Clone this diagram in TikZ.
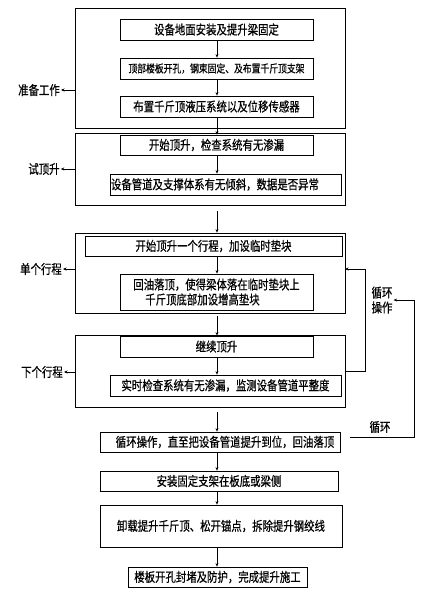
\documentclass[tikz,border=0pt]{standalone}
\usepackage{fontspec}
\newfontfamily\cjk[FakeStretch=0.8,FakeBold=0.6]{Noto Sans CJK SC}
\usetikzlibrary{arrows.meta}
\tikzset{
  grp/.style={draw, line width=0.8pt, minimum width=270pt, inner sep=0pt},
  bx/.style={draw, line width=0.8pt, inner sep=0pt, font=\cjk\fontsize{13}{15}\selectfont},
  lab/.style={font=\cjk\fontsize{13}{15}\selectfont, inner sep=1pt},
  arr/.style={-{Stealth[length=3.5pt,width=3pt]}, line width=0.7pt},
  ln/.style={line width=0.8pt},
}
\begin{document}
\begin{tikzpicture}[x=1pt,y=-1pt]
\useasboundingbox (0,0) rectangle (428,590);
\coordinate (spine) at (217,0);
% group boxes
\node[grp, minimum height=120pt] (g1) at (210,68) {};
\node[grp, minimum height=72pt] (g2) at (210,169) {};
\node[grp, minimum height=80pt] (g3) at (210,273) {};
\node[grp, minimum height=72pt] (g4) at (210,371) {};
% steps
\node[bx, minimum width=193pt, minimum height=21pt] (b1) at (216.5,29.5) {设备地面安装及提升梁固定};
\node[bx, minimum width=193pt, minimum height=21pt, font=\cjk\fontsize{11}{13}\selectfont] (b2) at (216.5,68.5) {顶部楼板开孔，钢束固定、及布置千斤顶支架};
\node[bx, minimum width=193pt, minimum height=21pt] (b3) at (216.5,106.5) {布置千斤顶液压系统以及位移传感器};
\node[bx, minimum width=193pt, minimum height=20pt] (b4) at (216.5,145) {开始顶升，检查系统有无渗漏};
\node[bx, minimum width=231pt, minimum height=21pt] (b5) at (225.5,184.5) {设备管道及支撑体系有无倾斜，数据是否异常\hspace*{21pt}};
\node[bx, minimum width=257pt, minimum height=20pt] (b6) at (213.5,246) {开始顶升一个行程，加设临时垫块};
\node[bx, minimum width=193pt, minimum height=36pt, align=left] (b7) at (216.5,292) {回油落顶，使得梁体落在临时垫块上\\\hspace*{12pt}千斤顶底部加设增高垫块};
\node[bx, minimum width=193pt, minimum height=21pt] (b8) at (216.5,346.5) {继续顶升};
\node[bx, minimum width=231pt, minimum height=21pt] (b9) at (225.5,385.5) {实时检查系统有无渗漏，监测设备管道平整度};
\node[bx, minimum width=240pt, minimum height=20pt] (b10) at (220,442) {\hspace*{10pt}循环操作，直至把设备管道提升到位，回油落顶};
\node[bx, minimum width=238pt, minimum height=20pt] (b11) at (219,481) {安装固定支架在板底或梁侧};
\node[bx, minimum width=242pt, minimum height=42pt] (b12) at (221,526) {卸载提升千斤顶、松开锚点，拆除提升钢绞线};
\node[bx, minimum width=179pt, minimum height=20pt] (b13) at (217.5,577) {楼板开孔封堵及防护，完成提升施工};
% spine arrows
\draw[arr] (b1.south -| spine) -- (b2.north -| spine);
\draw[arr] (b2.south -| spine) -- (b3.north -| spine);
\draw[arr] (b3.south -| spine) -- (b4.north -| spine);
\draw[arr] (b4.south -| spine) -- (b5.north -| spine);
\draw[arr, shorten <=6pt] (g2.south -| spine) -- (g3.north -| spine);
\draw[arr] (b6.south -| spine) -- (b7.north -| spine);
\draw[arr, shorten <=3pt] (g3.south -| spine) -- (b8.north -| spine);
\draw[arr] (b8.south -| spine) -- (b9.north -| spine);
\draw[arr, shorten <=5pt] (g4.south -| spine) -- (b10.north -| spine);
\draw[arr] (b10.south -| spine) -- (b11.north -| spine);
\draw[arr] (b11.south -| spine) -- (b12.north -| spine);
\draw[arr] (b12.south -| spine) -- (b13.north -| spine);
% left labels
\node[lab] (l1) at (39,90) {准备工作};
\node[lab] (l2) at (44,169) {试顶升};
\node[lab] (l3) at (41,269) {单个行程};
\node[lab] (l4) at (42,372) {下个行程};
\draw[arr] (g1.west |- l1) -- (l1.east);
\draw[arr] (g2.west |- l2) -- (l2.east);
\draw[arr] (g3.west |- l3) -- (l3.east);
\draw[arr] (g4.west |- l4) -- (l4.east);
% right loops
\coordinate (c1) at (365,371);
\coordinate (c2) at (365,269);
\coordinate (c3) at (345,269);
\draw[ln] (g4.east) -- (c1) -- (c2);
\draw[arr] (c2) -- (c3);
\node[lab, align=left] (l5) at (382,300) {循环\\操作};
\node[lab] (l6) at (380,427) {循环};
\coordinate (d0) at (350,437);
\coordinate (d1) at (414,437);
\coordinate (d2) at (414,300);
\draw[ln] (d0) -- (d1) -- (d2);
\draw[arr] (d2) -- (l5.east);
\end{tikzpicture}
\end{document}
